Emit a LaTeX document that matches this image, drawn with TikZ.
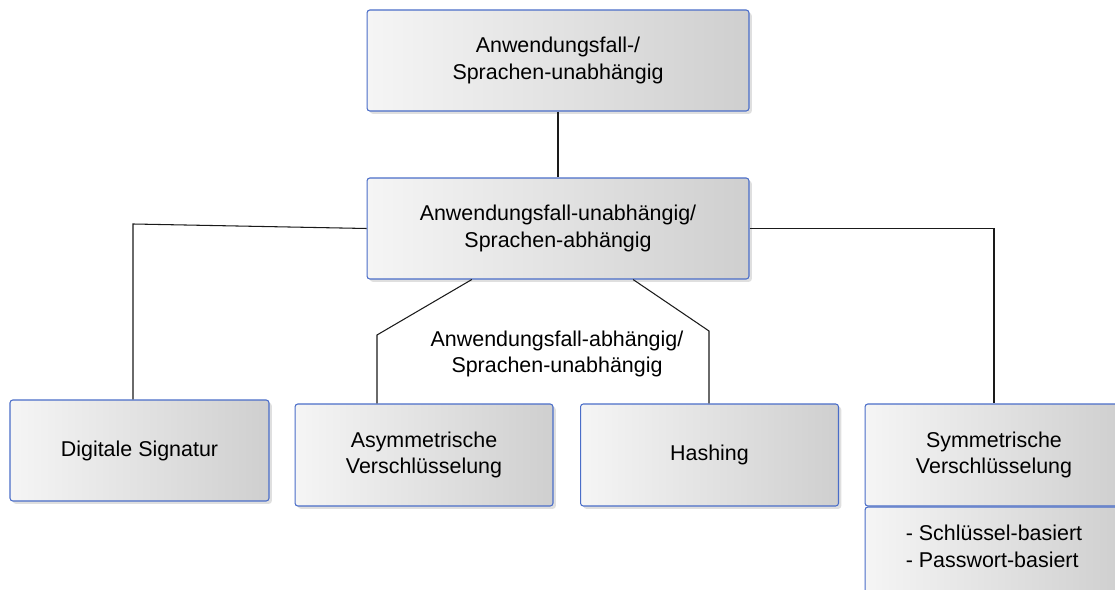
\documentclass[tikz,border=0pt]{standalone}
\usepackage{fontspec}
\setmainfont{Liberation Sans}
\usepackage{tikz}
\usetikzlibrary{shadows,calc}
\definecolor{boxblue}{HTML}{4A6DC8}
\definecolor{boxlight}{HTML}{F5F5F5}
\definecolor{boxdark}{HTML}{CFCFCF}
\definecolor{linegray}{HTML}{1A1A1A}

\begin{document}
\begin{tikzpicture}[x=0.02cm,y=-0.02cm]
  \tikzset{
    box/.style={draw=boxblue,line width=0.6pt,rounded corners=1.6pt,
      left color=boxlight,right color=boxdark,
      drop shadow={opacity=0.25,shadow xshift=1.6pt,shadow yshift=-1.6pt},
      align=center,font=\fontsize{12.2}{15.3}\selectfont},
    widebox/.style={box,minimum width=7.64cm,minimum height=2.02cm},
    leafbox/.style={box,minimum width=5.16cm,minimum height=2.04cm},
    plain/.style={align=center,font=\fontsize{12.2}{15.3}\selectfont},
    link/.style={draw=linegray,line width=0.6pt},
  }
  \useasboundingbox (0,0) rectangle (1115,590);
  \clip (0,0) rectangle (1115,590);

  % Two upper levels.
  \node[widebox] (top) at (558,60.5) {Anwendungsfall-/\\Sprachen-unabh\"angig};
  \node[widebox] (mid) at (558,228.5) {Anwendungsfall-unabh\"angig/\\Sprachen-abh\"angig};

  % Leaves, left to right.
  \node[leafbox,minimum width=5.18cm,minimum height=2.02cm] (sig) at (139.5,450.5) {Digitale Signatur};
  \node[leafbox] (asym) at (424,455) {Asymmetrische\\Verschl\"usselung};
  \node[leafbox] (hash) at (709.5,455) {Hashing};
  \node[leafbox] (sym) at (994,455) {Symmetrische\\Verschl\"usselung};
  \node[leafbox,anchor=north,minimum height=1.9cm] (symlist) at (sym.south) {};
  \node[plain,align=left] (symtext) at (994,546.5) {- Schl\"ussel-basiert\\- Passwort-basiert};

  % Label between the two middle branches.
  \node[plain] (grouplabel) at (557,354) {Anwendungsfall-abh\"angig/\\Sprachen-unabh\"angig};

  % Connectors.
  \coordinate (lbend) at (133,224);
  \coordinate (abend) at (377,335);
  \coordinate (hbend) at (709,331);
  \draw[link] (top) -- (mid);
  \draw[link] (mid.west) -- (lbend) -- (lbend |- sig.north);
  \draw[link] (mid.east) -| (sym.north);
  \draw[link] ($(mid.south west)!0.275!(mid.south east)$) -- (abend) -- (abend |- asym.north);
  \draw[link] ($(mid.south west)!0.696!(mid.south east)$) -- (hbend) -- (hbend |- hash.north);
\end{tikzpicture}
\end{document}
